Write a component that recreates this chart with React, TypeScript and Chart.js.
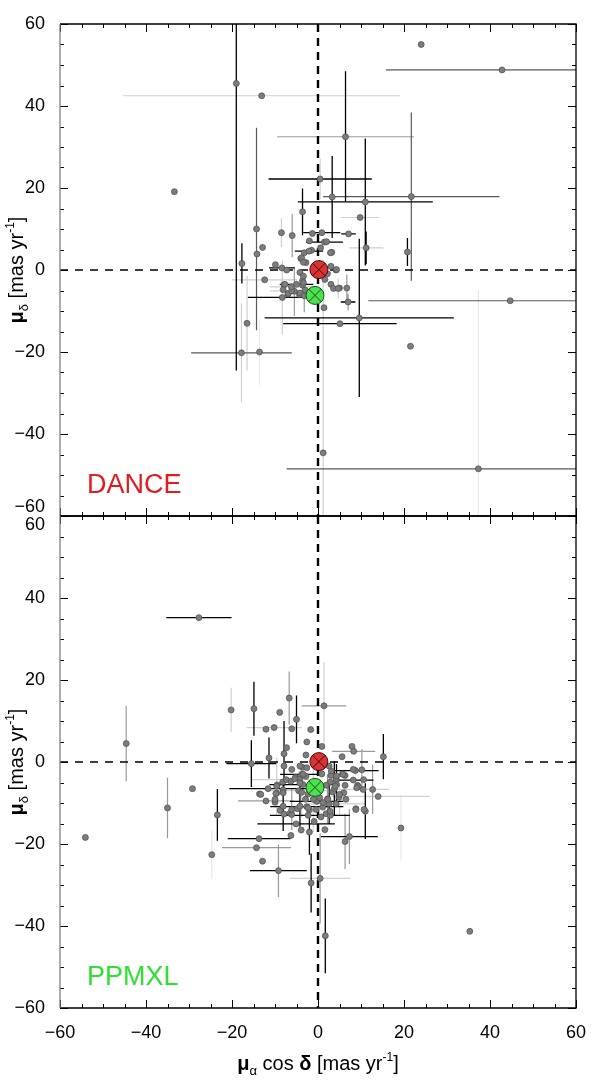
import React, { useEffect, useRef } from 'react';
import { Chart, registerables } from 'chart.js';

Chart.register(...registerables);

const FONT = "'Liberation Sans', Arial, Helvetica, sans-serif";

// axis range / ticks
const AXIS_MIN = -60;
const AXIS_MAX = 60;
const MAJOR_STEP = 20;
const MINOR_STEP = 5;

// panel labels
const panelNames = ['DANCE', 'PPMXL'];
const panelColors = ['#e6191e', '#2fe02f'];

// cluster mean proper motions [muRA, muDec]
const danceMean = [0.2, 0.1];
const ppmxlMean = [-0.7, -6.2];

// error-bar shades: 0 none, 1 black ... 5 very light
const shadeColors = ['', '#000000', '#595959', '#9a9a9a', '#d0d0d0', '#e8e8e8'];

// DANCE stars: [muRA cosDec, muDec, errRA, errDec, shadeRA, shadeDec]
const danceStars: number[][] = [
  [-19.0, 45.5, 0, 70, 0, 1],
  [-13.1, 42.5, 32.2, 0, 4, 0],
  [-33.4, 19.1, 0, 0, 0, 0],
  [6.4, 32.5, 15.9, 16, 3, 1],
  [0.5, 22.2, 12, 5, 1, 4],
  [-3.6, 14.2, 0, 5.7, 0, 1],
  [11.0, 16.6, 15.7, 15.5, 1, 1],
  [3.3, 17.8, 0, 10, 0, 1],
  [21.7, 17.9, 20.5, 20.5, 2, 2],
  [42.8, 48.8, 27, 0, 2, 0],
  [24.0, 55.0, 0, 0, 0, 0],
  [9.8, 12.8, 4.5, 0, 4, 0],
  [7.1, 8.8, 1.7, 0, 1, 0],
  [11.2, 5.4, 4, 4, 4, 1],
  [20.8, 4.4, 0, 3.4, 0, 1],
  [44.7, -7.5, 33, 0, 2, 0],
  [9.6, -11.7, 22, 19.3, 1, 1],
  [5.1, -13.1, 13.2, 0, 1, 0],
  [21.5, -18.6, 0, 0, 0, 0],
  [1.2, -44.6, 0, 47, 0, 4],
  [37.3, -48.5, 44.6, 43.6, 2, 5],
  [-14.3, 10.0, 0, 24.7, 0, 2],
  [-12.9, 5.5, 0, 0, 0, 0],
  [-14.2, 3.9, 0, 0, 0, 0],
  [-17.7, 1.6, 0, 4.9, 0, 1],
  [-12.4, -2.4, 7.5, 0, 4, 0],
  [-16.5, -13.0, 0, 11.6, 0, 4],
  [-17.8, -20.2, 11.7, 12, 2, 4],
  [-13.6, -20.0, 0, 8, 0, 5],
  [-8.5, 9.1, 0, 3.5, 0, 4],
  [-6.0, 8.4, 0, 5.3, 0, 3],
  [-9.9, 1.3, 0, 0, 0, 0],
  [-8.4, 0.5, 3, 0, 1, 0],
  [-7.3, 0.0, 0, 0, 0, 0],
  [-7.9, -3.6, 0, 0, 0, 0],
  [-8.3, -6.7, 8, 9, 1, 4],
  [-7.0, -5.9, 0, 0, 0, 0],
  [-5.5, -5.2, 0, 6, 0, 3],
  [-4.3, -6.0, 0, 0, 0, 0],
  [-3.6, -3.7, 0, 0, 0, 0],
  [-3.6, -2.6, 0, 0, 0, 0],
  [-4.2, -0.6, 0, 0, 0, 0],
  [-4.0, 2.8, 0, 0, 0, 0],
  [-3.2, 4.2, 0, 0, 0, 0],
  [-2.0, 7.1, 0, 0, 0, 0],
  [-1.3, 8.9, 0, 0, 0, 0],
  [0.9, 9.1, 4.3, 0, 1, 0],
  [-1.5, 4.8, 0, 0, 0, 0],
  [-2.8, 1.8, 0, 0, 0, 0],
  [1.5, 6.8, 4.3, 0, 1, 0],
  [0.6, 5.4, 0, 0, 0, 0],
  [3.2, 4.3, 0, 0, 0, 0],
  [-2.1, 4.6, 3.3, 0, 1, 0],
  [-3.8, 3.0, 0, 0, 0, 0],
  [-3.4, 1.9, 0, 0, 0, 0],
  [3.0, 0.9, 0, 0, 0, 0],
  [4.2, 0.0, 0, 0, 0, 0],
  [2.2, -0.9, 0, 0, 0, 0],
  [-3.4, -1.5, 0, 0, 0, 0],
  [1.6, -2.3, 0, 0, 0, 0],
  [-3.4, -3.1, 0, 0, 0, 0],
  [-7.7, -3.5, 0, 0, 0, 0],
  [-5.0, -3.5, 3.9, 0, 1, 0],
  [3.0, -3.5, 0, 0, 0, 0],
  [3.6, -4.5, 0, 0, 0, 0],
  [5.0, -4.4, 0, 0, 0, 0],
  [6.7, -4.4, 0, 3.3, 0, 3],
  [-8.1, -4.8, 0, 0, 0, 0],
  [-6.9, -5.7, 0, 0, 0, 0],
  [-4.2, -5.6, 0, 0, 0, 0],
  [-6.1, -5.1, 5, 0, 4, 0],
  [-3.2, -6.3, 0, 4, 0, 3],
  [-3.0, -4.9, 0, 0, 0, 0],
  [7.0, -7.8, 1.7, 2, 1, 3],
  [1.4, -9.2, 0, 0, 0, 0],
  [-6.2, -4.1, 5.1, 0, 4, 0],
  [2.0, 6.9, 0, 0, 0, 0],
  [2.9, 4.2, 0, 0, 0, 0],
  [4.3, 0.1, 0, 0, 0, 0],
  [4.7, -4.5, 0, 2.5, 0, 4],
  [-0.3, -7.0, 0, 0, 0, 0],
];

// PPMXL stars: [muRA cosDec, muDec, errRA, errDec, shadeRA, shadeDec]
const ppmxlStars: number[][] = [
  [-27.7, 35.2, 7.6, 0, 1, 0],
  [-44.6, 4.5, 0, 9.2, 0, 3],
  [-54.1, -18.4, 0, 0, 0, 0],
  [-35.0, -11.2, 0, 7.4, 0, 3],
  [-29.2, -6.5, 0, 0, 0, 0],
  [-23.4, -12.9, 0, 6.3, 0, 1],
  [-24.7, -22.6, 0, 6, 0, 5],
  [-20.2, 12.7, 0, 5.4, 0, 4],
  [-14.9, 13.0, 0, 6.6, 0, 1],
  [-15.5, -0.4, 5.8, 5.7, 1, 1],
  [-11.4, 1.0, 0, 5, 0, 1],
  [-8.9, 12.1, 0, 0, 0, 0],
  [-6.7, 15.6, 0, 6.5, 0, 3],
  [-5.0, 10.4, 0, 5.8, 0, 1],
  [-12.1, 8.0, 0, 0, 0, 0],
  [-10.2, 8.4, 6.4, 0, 4, 0],
  [-6.1, 8.1, 0, 0, 0, 0],
  [-1.7, 7.9, 0, 0, 0, 0],
  [-2.6, 4.9, 0, 0, 0, 0],
  [-7.3, 3.5, 0, 0, 0, 0],
  [-7.9, 2.0, 0, 8, 0, 1],
  [-2.8, 1.7, 0, 0, 0, 0],
  [-13.7, -18.7, 7.3, 0, 1, 0],
  [-14.3, -20.9, 8, 0, 3, 0],
  [-12.9, -24.2, 0, 0, 0, 0],
  [-9.2, -26.5, 6.6, 6.4, 1, 3],
  [-1.6, -29.5, 0, 7.2, 0, 1],
  [-6.3, -17.9, 0, 0, 0, 0],
  [-3.9, -16.6, 0, 0, 0, 0],
  [-2.0, -17.1, 0, 5.5, 0, 1],
  [-5.1, -15.1, 9, 0, 1, 0],
  [-13.6, -7.8, 0, 0, 0, 0],
  [-11.6, -6.5, 9, 0, 1, 0],
  [-12.1, -9.5, 6.5, 0, 3, 0],
  [-10.0, -9.8, 0, 0, 0, 0],
  [-9.5, -5.6, 0, 0, 0, 0],
  [-9.6, -7.6, 0, 0, 0, 0],
  [-8.8, -11.8, 0, 0, 0, 0],
  [-7.9, -12.7, 0, 0, 0, 0],
  [-6.5, -12.5, 0, 0, 0, 0],
  [-6.1, -12.8, 0, 0, 0, 0],
  [-4.8, -11.4, 0, 0, 0, 0],
  [-8.1, -6.8, 0, 0, 0, 0],
  [-8.2, -4.9, 0, 0, 0, 0],
  [-6.3, -4.7, 0, 0, 0, 0],
  [-5.2, -3.7, 0, 0, 0, 0],
  [-4.2, -4.1, 0, 0, 0, 0],
  [-3.6, -1.3, 0, 0, 0, 0],
  [-2.8, -3.5, 0, 0, 0, 0],
  [-2.3, -7.8, 0, 0, 0, 0],
  [-2.6, -10.9, 8.5, 0, 1, 0],
  [-2.0, -11.7, 0, 0, 0, 0],
  [-0.9, -14.5, 0, 0, 0, 0],
  [-2.3, -13.0, 8.9, 0, 1, 0],
  [-0.3, -9.6, 6.2, 0, 1, 0],
  [-3.5, -5.5, 7.8, 0, 1, 0],
  [-3.8, -3.0, 5, 0, 1, 0],
  [-4.5, -7.0, 6.6, 0, 4, 0],
  [-4.2, -10.8, 0, 5, 0, 1],
  [1.4, 13.7, 5.2, 10.6, 3, 4],
  [0.9, 3.8, 0, 0, 0, 0],
  [7.9, 3.8, 0, 0, 0, 0],
  [8.3, 2.6, 5, 0, 3, 0],
  [5.6, 1.3, 0, 0, 0, 0],
  [15.2, 1.3, 0, 5.5, 0, 1],
  [8.7, -2.1, 5.4, 0, 1, 0],
  [10.2, -1.9, 0, 5, 0, 3],
  [6.3, -3.3, 0, 0, 0, 0],
  [8.2, -4.4, 4.7, 0, 1, 0],
  [9.2, -5.7, 0, 0, 0, 0],
  [9.4, -6.0, 0, 0, 0, 0],
  [10.6, -4.3, 0, 0, 0, 0],
  [6.3, -5.7, 0, 0, 0, 0],
  [6.0, -7.5, 0, 0, 0, 0],
  [12.7, -6.7, 0, 6, 0, 3],
  [14.0, -8.4, 12, 0, 4, 0],
  [8.8, -11.4, 0, 0, 0, 0],
  [11.0, -12.0, 0, 6.8, 0, 1],
  [19.3, -16.1, 0, 8, 0, 5],
  [1.6, -16.5, 0, 0, 0, 0],
  [7.3, -18.2, 6.6, 6.7, 1, 3],
  [6.3, -19.4, 0, 6.7, 0, 3],
  [0.5, -28.4, 7, 11, 4, 3],
  [1.7, -42.4, 0, 9.1, 0, 1],
  [35.3, -41.3, 0, 0, 0, 0],
  [3.0, -3.3, 0, 0, 0, 0],
  [4.2, -4.3, 0, 0, 0, 0],
  [2.8, -4.9, 0, 0, 0, 0],
  [3.4, -7.3, 0, 0, 0, 0],
  [2.2, -9.0, 0, 6, 0, 3],
  [2.6, -10.2, 0, 5, 0, 1],
  [4.2, -10.2, 7, 0, 4, 0],
  [1.1, -11.0, 0, 0, 0, 0],
  [1.9, -12.6, 0, 0, 0, 0],
  [2.9, -13.0, 4.5, 0, 1, 0],
  [0.7, -13.4, 0, 0, 0, 0],
  [2.6, -1.0, 0, 0, 0, 0],
  [0.9, -2.9, 0, 0, 0, 0],
  [1.9, -5.7, 0, 0, 0, 0],
  [4.9, -8.6, 0, 0, 0, 0],
  [5.7, -2.9, 0, 0, 0, 0],
  [3.8, -6.5, 0, 6.7, 0, 1],
  [4.3, -5.5, 0, 5, 0, 1],
  [-7.9, -1.0, 0, 0, 0, 0],
  [-6.1, -1.8, 0, 0, 0, 0],
  [-4.2, -1.0, 0, 0, 0, 0],
  [-2.6, -1.4, 0, 0, 0, 0],
  [-3.4, -3.0, 0, 0, 0, 0],
  [3.1, -2.2, 0, 0, 0, 0],
  [4.3, -3.4, 0, 0, 0, 0],
  [5.8, -3.0, 0, 0, 0, 0],
  [8.2, -1.8, 0, 0, 0, 0],
  [4.0, -5.9, 0, 0, 0, 0],
  [9.0, -6.3, 0, 0, 0, 0],
  [10.5, -6.7, 6, 0, 4, 0],
  [-4.2, -5.1, 0, 0, 0, 0],
  [-5.4, -4.1, 0, 0, 0, 0],
  [-7.4, -4.3, 8, 0, 4, 0],
  [-9.6, -5.9, 0, 7, 0, 4],
  [-13.3, -7.9, 0, 0, 0, 0],
  [-9.8, -7.7, 0, 0, 0, 0],
  [-8.1, -7.5, 0, 0, 0, 0],
  [-3.8, -7.4, 0, 6, 0, 4],
  [-2.9, -9.1, 0, 0, 0, 0],
  [-1.1, -9.1, 0, 8, 0, 4],
  [0.4, -8.7, 0, 0, 0, 0],
  [2.3, -9.1, 0, 0, 0, 0],
  [5.0, -7.9, 0, 5, 0, 4],
  [6.5, -9.1, 0, 0, 0, 0],
  [8.8, -11.6, 0, 0, 0, 0],
  [10.7, -11.6, 0, 0, 0, 0],
  [-10.0, -9.1, 0, 0, 0, 0],
  [-8.1, -10.8, 0, 6, 0, 1],
  [-6.1, -11.6, 0, 5, 0, 3],
  [-2.3, -11.2, 0, 0, 0, 0],
  [-0.4, -11.6, 0, 0, 0, 0],
  [1.2, -9.9, 0, 0, 0, 0],
  [2.8, -12.0, 0, 0, 0, 0],
];

const clamp = (v: number) => Math.max(AXIS_MIN, Math.min(AXIS_MAX, v));
const fmt = (v: number) => (v < 0 ? '\u2212' + Math.abs(v) : String(v));

function errorBarDatasets(stars: number[][], yAxisID: string) {
  const out: any[] = [];
  for (let s = 5; s >= 1; s--) {
    const data: any[] = [];
    for (const [x, y, ex, ey, sx, sy] of stars) {
      if (ex > 0 && sx === s) {
        data.push({ x: clamp(x - ex), y }, { x: clamp(x + ex), y }, { x: null, y: null });
      }
      if (ey > 0 && sy === s) {
        data.push({ x, y: clamp(y - ey) }, { x, y: clamp(y + ey) }, { x: null, y: null });
      }
    }
    if (data.length) {
      out.push({
        data,
        showLine: true,
        spanGaps: false,
        borderColor: shadeColors[s],
        borderWidth: s === 1 ? 1.3 : 1.2,
        pointRadius: 0,
        pointHoverRadius: 0,
        xAxisID: 'x',
        yAxisID,
        order: 20 + s,
      });
    }
  }
  return out;
}

function zeroLineDatasets(yAxisID: string) {
  return [
    {
      data: [{ x: AXIS_MIN, y: 0 }, { x: AXIS_MAX, y: 0 }],
      showLine: true,
      borderColor: '#000',
      borderWidth: 1.4,
      borderDash: [8, 7],
      pointRadius: 0,
      xAxisID: 'x',
      yAxisID,
      order: 10,
    },
    {
      data: [{ x: 0, y: AXIS_MAX }, { x: 0, y: AXIS_MIN }],
      showLine: true,
      borderColor: '#000',
      borderWidth: 2.4,
      borderDash: [8, 6],
      pointRadius: 0,
      xAxisID: 'x',
      yAxisID,
      order: 10,
    },
  ];
}

function starDataset(stars: number[][], yAxisID: string) {
  return {
    data: stars.map(([x, y]) => ({ x, y })),
    pointRadius: 3,
    pointBackgroundColor: '#7c7c7c',
    pointBorderColor: '#4e4e4e',
    pointBorderWidth: 0.7,
    xAxisID: 'x',
    yAxisID,
    order: 5,
  };
}

function meanDatasets(yAxisID: string) {
  const mk = (m: number[], fill: string, edge: string, order: number) => [
    {
      data: [{ x: m[0], y: m[1] }],
      pointStyle: 'circle',
      pointRadius: 9,
      pointBackgroundColor: fill,
      pointBorderColor: edge,
      pointBorderWidth: 1,
      xAxisID: 'x',
      yAxisID,
      order: order + 0.5,
    },
    {
      data: [{ x: m[0], y: m[1] }],
      pointStyle: 'crossRot',
      pointRadius: 9,
      pointBorderColor: edge,
      pointBorderWidth: 1,
      xAxisID: 'x',
      yAxisID,
      order: order,
    },
  ];
  return [
    ...mk(ppmxlMean, '#4fe04f', '#145214', 2),
    ...mk(danceMean, '#d83434', '#4a0808', 1),
  ];
}

type Run = { t: string; size: number; bold?: boolean; dy?: number };

function drawRuns(ctx: CanvasRenderingContext2D, runs: Run[], cx: number, base: number) {
  const widths: number[] = [];
  let total = 0;
  for (const r of runs) {
    ctx.font = `${r.bold ? 'bold ' : ''}${r.size}px ${FONT}`;
    const w = ctx.measureText(r.t).width;
    widths.push(w);
    total += w;
  }
  let x = cx - total / 2;
  runs.forEach((r, i) => {
    ctx.font = `${r.bold ? 'bold ' : ''}${r.size}px ${FONT}`;
    ctx.fillText(r.t, x, base + (r.dy || 0));
    x += widths[i];
  });
}

const yTitleRuns: Run[] = [
  { t: '\u03bc', size: 20, bold: true },
  { t: '\u03b4', size: 13, dy: 5 },
  { t: ' [mas yr', size: 20 },
  { t: '-1', size: 12, dy: -9 },
  { t: ']', size: 20 },
];
const xTitleRuns: Run[] = [
  { t: '\u03bc', size: 20, bold: true },
  { t: '\u03b1', size: 13, dy: 5 },
  { t: ' cos ', size: 20 },
  { t: '\u03b4', size: 20, bold: true },
  { t: ' [mas yr', size: 20 },
  { t: '-1', size: 12, dy: -9 },
  { t: ']', size: 20 },
];

const framePlugin = {
  id: 'framePlugin',
  afterDatasetsDraw(chart: any) {
    const ctx: CanvasRenderingContext2D = chart.ctx;
    const xs = chart.scales.x;
    const { left, right } = chart.chartArea;
    ['yTop', 'yBot'].forEach((id, pi) => {
      const ys = chart.scales[id];
      const top = ys.top;
      const bottom = ys.bottom;
      ctx.save();
      ctx.lineWidth = 1;
      ctx.strokeStyle = '#000';
      ctx.beginPath();
      for (let v = AXIS_MIN; v <= AXIS_MAX; v += MINOR_STEP) {
        const len = v % MAJOR_STEP === 0 ? 8 : 4;
        const px = Math.round(xs.getPixelForValue(v)) + 0.5;
        ctx.moveTo(px, bottom);
        ctx.lineTo(px, bottom - len);
        ctx.moveTo(px, top);
        ctx.lineTo(px, top + len);
        const py = Math.round(ys.getPixelForValue(v)) + 0.5;
        ctx.moveTo(left, py);
        ctx.lineTo(left + len, py);
        ctx.moveTo(right, py);
        ctx.lineTo(right - len, py);
      }
      ctx.stroke();
      // frame
      ctx.lineWidth = 1.3;
      ctx.beginPath();
      ctx.moveTo(left, top);
      ctx.lineTo(right, top);
      ctx.lineTo(right, bottom);
      ctx.lineTo(left, bottom);
      ctx.stroke();
      ctx.strokeStyle = '#808080';
      ctx.beginPath();
      ctx.moveTo(left, top);
      ctx.lineTo(left, bottom);
      ctx.stroke();

      // panel label
      ctx.fillStyle = panelColors[pi];
      ctx.font = `27px ${FONT}`;
      ctx.textBaseline = 'alphabetic';
      ctx.textAlign = 'left';
      ctx.fillText(panelNames[pi], left + 27, bottom - 23);

      // y title
      ctx.fillStyle = '#000';
      ctx.translate(23, (top + bottom) / 2);
      ctx.rotate(-Math.PI / 2);
      drawRuns(ctx, yTitleRuns, 0, 0);
      ctx.restore();
    });
    ctx.save();
    ctx.fillStyle = '#000';
    ctx.textBaseline = 'alphabetic';
    ctx.textAlign = 'left';
    drawRuns(ctx, xTitleRuns, (left + right) / 2, 1070);
    ctx.restore();
  },
};

export default function App() {
  const ref = useRef<HTMLCanvasElement | null>(null);
  useEffect(() => {
    if (!ref.current) return;
    const tickFont = { family: FONT, size: 18, lineHeight: 1.0 };
    const chart = new Chart(ref.current, {
      type: 'scatter',
      data: {
        datasets: [
          ...errorBarDatasets(danceStars, 'yTop'),
          ...errorBarDatasets(ppmxlStars, 'yBot'),
          ...zeroLineDatasets('yTop'),
          ...zeroLineDatasets('yBot'),
          starDataset(danceStars, 'yTop'),
          starDataset(ppmxlStars, 'yBot'),
          ...meanDatasets('yTop'),
          ...meanDatasets('yBot'),
        ] as any,
      },
      options: {
        animation: false,
        responsive: false,
        devicePixelRatio: 1,
        events: [],
        layout: { padding: { top: 24, right: 24, left: 0, bottom: 0 } },
        plugins: { legend: { display: false }, tooltip: { enabled: false } },
        scales: {
          x: {
            type: 'linear',
            position: 'bottom',
            min: AXIS_MIN,
            max: AXIS_MAX,
            grid: { display: false },
            border: { display: false },
            ticks: {
              stepSize: MAJOR_STEP,
              padding: 8,
              color: '#000',
              font: tickFont,
              maxRotation: 0,
              callback: (v: any) => fmt(Number(v)),
            },
            afterFit: (s: any) => {
              s.height = 73;
            },
          },
          yBot: {
            type: 'linear',
            position: 'left',
            stack: 'panels',
            stackWeight: 1,
            min: AXIS_MIN,
            max: AXIS_MAX,
            grid: { display: false },
            border: { display: false },
            ticks: {
              stepSize: MAJOR_STEP,
              padding: 7,
              color: '#000',
              font: tickFont,
              callback: (v: any) => (Number(v) === AXIS_MAX ? '' : fmt(Number(v))),
            },
            afterFit: (s: any) => {
              s.width = 60;
            },
          },
          yTop: {
            type: 'linear',
            position: 'left',
            stack: 'panels',
            stackWeight: 1,
            min: AXIS_MIN,
            max: AXIS_MAX,
            grid: { display: false },
            border: { display: false },
            ticks: {
              stepSize: MAJOR_STEP,
              padding: 7,
              color: '#000',
              font: tickFont,
              callback: (v: any) => (Number(v) === AXIS_MIN ? [fmt(AXIS_MIN), fmt(AXIS_MAX)] : fmt(Number(v))),
            },
            afterFit: (s: any) => {
              s.width = 60;
            },
          },
        } as any,
      },
      plugins: [framePlugin],
    });
    return () => chart.destroy();
  }, []);
  return (
    <div style={{ position: 'absolute', left: 0, top: 0, width: 600, height: 1081, background: '#fff' }}>
      <canvas ref={ref} width={600} height={1081} style={{ display: 'block' }} />
    </div>
  );
}
